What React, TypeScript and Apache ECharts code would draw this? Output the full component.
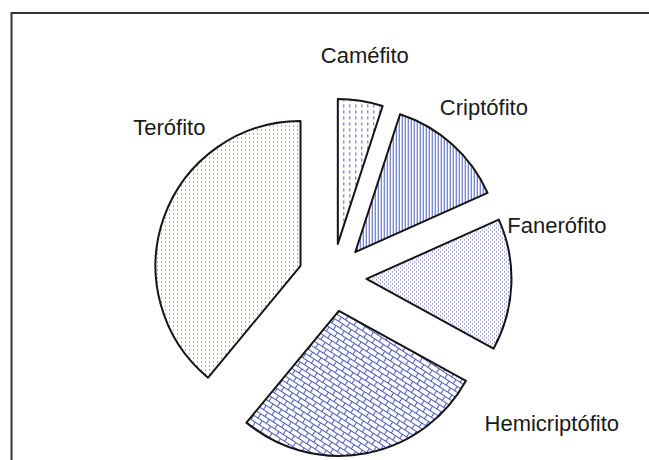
import React, { useEffect, useRef } from "react";
import * as echarts from "echarts";

const categories = ["Caméfito", "Criptófito", "Fanerófito", "Hemicriptófito", "Terófito"];
const values = [5, 13.3, 14.7, 28, 39];

// label nudges relative to ECharts' outside label anchor (style, not data)
const labelNudge: number[][] = [
  [-51, -6],
  [-44, -7],
  [-49, -61],
  [106, -69],
  [84, -76],
];

const BLUE = "#4a5bbd";

function tile(w: number, h: number, draw: (ctx: CanvasRenderingContext2D) => void) {
  const c = document.createElement("canvas");
  c.width = w;
  c.height = h;
  const ctx = c.getContext("2d") as CanvasRenderingContext2D;
  ctx.fillStyle = "#ffffff";
  ctx.fillRect(0, 0, w, h);
  ctx.fillStyle = BLUE;
  ctx.strokeStyle = BLUE;
  draw(ctx);
  return c;
}

function makePatterns() {
  const cam = tile(6, 6, (ctx) => {
    ctx.fillRect(2, 0, 1, 3);
  });
  const cri = tile(3, 3, (ctx) => {
    ctx.fillRect(1, 0, 1, 3);
  });
  const fan = tile(4, 4, (ctx) => {
    ctx.fillRect(0, 0, 1, 1);
    ctx.fillRect(2, 2, 1, 1);
  });
  const hem = tile(10, 10, (ctx) => {
    ctx.fillRect(0, 0, 10, 1);
    ctx.fillRect(0, 5, 10, 1);
    ctx.fillRect(0, 0, 1, 5);
    ctx.fillRect(5, 5, 1, 5);
  });
  const ter = tile(4, 4, (ctx) => {
    ctx.fillRect(1, 1, 1, 1);
  });
  const mk = (c: HTMLCanvasElement, rotation = 0) => ({
    image: c,
    repeat: "repeat",
    imageWidth: c.width,
    imageHeight: c.height,
    rotation,
  });
  return [mk(cam), mk(cri), mk(fan), mk(hem, (33 * Math.PI) / 180), mk(ter)];
}

export default function App() {
  const ref = useRef<HTMLDivElement>(null);
  useEffect(() => {
    if (!ref.current) return;
    const chart = echarts.init(ref.current, undefined, { renderer: "svg" });
    const patterns = makePatterns();
    const data = categories.map((name, i) => ({
      name,
      value: values[i],
      selected: true,
      itemStyle: { color: patterns[i] as any },
    }));
    chart.setOption({
      animation: false,
      backgroundColor: "#ffffff",
      graphic: [
        {
          type: "rect",
          shape: { x: 11.5, y: 13, width: 700, height: 500 },
          style: { fill: "none", stroke: "#333333", lineWidth: 2 },
          silent: true,
        },
      ],
      series: [
        {
          type: "pie",
          center: [332.5, 277.5],
          radius: 145,
          startAngle: 90,
          clockwise: true,
          selectedMode: "multiple",
          selectedOffset: 34,
          avoidLabelOverlap: false,
          emphasis: { disabled: true },
          itemStyle: { borderColor: "#151515", borderWidth: 2 },
          select: { itemStyle: { borderColor: "#151515", borderWidth: 2 } },
          label: {
            show: true,
            position: "outside",
            formatter: "{b}",
            color: "#1a1a1a",
            fontFamily: "'Liberation Sans', Arial, sans-serif",
            fontSize: 22,
            distanceToLabelLine: 5,
          },
          labelLine: { show: false, length: 40, length2: 0 },
          labelLayout: (params: any) => ({
            dx: labelNudge[params.dataIndex][0],
            dy: labelNudge[params.dataIndex][1],
          }),
          data,
        },
      ],
    });
    return () => chart.dispose();
  }, []);
  return (
    <div
      ref={ref}
      style={{ position: "fixed", left: 0, top: 0, width: 649, height: 460, background: "#fff" }}
    />
  );
}
